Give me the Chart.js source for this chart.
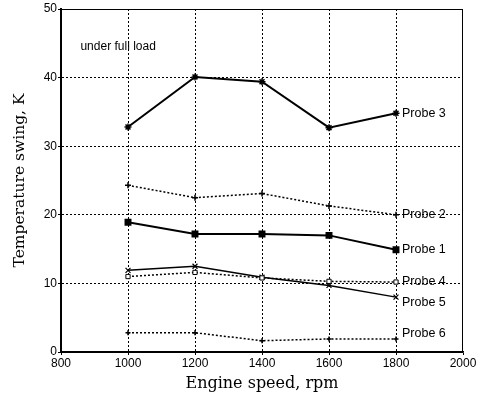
<!DOCTYPE html>
<html>
<head>
<meta charset="utf-8">
<script src="https://cdn.jsdelivr.net/npm/chart.js@4"></script>
<style>
html, body { margin: 0; padding: 0; background: #fff; }
#wrap { width: 488px; height: 403px; }
</style>
</head>
<body>
<div id="wrap"><canvas id="swingChart" width="488" height="403"></canvas></div>
<script>
let speeds = [1000, 1200, 1400, 1600, 1800];
let probe1 = [18.9, 17.2, 17.2, 17.0, 14.9];
let probe2 = [24.3, 22.5, 23.1, 21.3, 20.0];
let probe3 = [32.8, 40.1, 39.4, 32.7, 34.8];
let probe4 = [11.0, 11.6, 10.8, 10.3, 10.2];
let probe5 = [11.9, 12.5, 10.9, 9.7, 8.0];
let probe6 = [2.8, 2.8, 1.65, 1.9, 1.9];
let xTicks = [800, 1000, 1200, 1400, 1600, 1800, 2000];
let yTicks = [0, 10, 20, 30, 40, 50];

function pts(vals) {
	return speeds.map(function (s, i) { return { x: s, y: vals[i] }; });
}

// frame, end labels and note
var extras = {
	id: 'extras',
	afterDatasetsDraw: function (chart) {
		var c = chart.ctx, a = chart.chartArea;
		c.save();
		c.strokeStyle = '#000';
		c.lineWidth = 1;
		c.strokeRect(a.left + 0.5, a.top + 0.5, a.right - a.left - 1, a.bottom - a.top);
		c.fillStyle = '#000';
		c.font = '12.5px "Liberation Sans", Arial, sans-serif';
		c.textBaseline = 'middle';
		chart.data.datasets.forEach(function (ds, i) {
			var meta = chart.getDatasetMeta(i);
			var p = meta.data[meta.data.length - 1];
			c.fillText(ds.label, p.x + 6, p.y + (ds.labelShift || 0));
		});
		c.font = '12px "Liberation Sans", Arial, sans-serif';
		c.fillText('under full load', chart.scales.x.getPixelForValue(858), chart.scales.y.getPixelForValue(44.5));
		c.restore();
	}
};

var plainTick = function (v) { return String(v); };

var ctx = document.getElementById('swingChart').getContext('2d');
var swingChart = new Chart(ctx, {
	type: 'line',
	data: {
		datasets: [{
			label: 'Probe 3',
			data: pts(probe3),
			borderColor: '#000', backgroundColor: '#000',
			borderWidth: 2, pointStyle: 'star', pointRadius: 3.5, pointBorderWidth: 1.5
		}, {
			label: 'Probe 2',
			data: pts(probe2),
			borderColor: '#000', backgroundColor: '#000',
			borderWidth: 1.5, borderDash: [2, 2], pointStyle: 'cross', pointRadius: 3, pointBorderWidth: 1.5
		}, {
			label: 'Probe 1',
			data: pts(probe1),
			borderColor: '#000', backgroundColor: '#000',
			borderWidth: 2, pointStyle: 'rect', pointRadius: 3.5
		}, {
			label: 'Probe 4',
			data: pts(probe4),
			borderColor: '#000', backgroundColor: '#fff',
			borderWidth: 1.5, borderDash: [2, 2], pointStyle: 'rect', pointRadius: 3, pointBorderWidth: 1
		}, {
			label: 'Probe 5',
			data: pts(probe5),
			borderColor: '#000', backgroundColor: '#000',
			borderWidth: 1.5, pointStyle: 'crossRot', pointRadius: 3.5, pointBorderWidth: 1.2,
			labelShift: 5
		}, {
			label: 'Probe 6',
			data: pts(probe6),
			borderColor: '#000', backgroundColor: '#000',
			borderWidth: 1.5, borderDash: [2, 2], pointStyle: 'cross', pointRadius: 2.5, pointBorderWidth: 1.5,
			labelShift: -5
		}]
	},
	options: {
		responsive: false,
		animation: false,
		layout: { padding: { top: 9, right: 25, left: 0, bottom: 0 } },
		plugins: { legend: { display: false }, tooltip: { enabled: false } },
		scales: {
			x: {
				type: 'linear', min: 800, max: 2000,
				afterBuildTicks: function (s) { s.ticks = xTicks.map(function (v) { return { value: v }; }); },
				afterFit: function (s) { s.height = 51; },
				border: { color: '#000', width: 1.5, dash: [2, 2] },
				grid: {
					color: function (c) { return (c.tick && (c.tick.value === 800 || c.tick.value === 2000)) ? 'rgba(0,0,0,0)' : '#000'; },
					tickColor: '#000', tickLength: 3, drawTicks: true
				},
				ticks: { color: '#000', padding: 1, callback: plainTick, font: { size: 12, family: '"Liberation Sans", Arial, sans-serif' } },
				title: { display: true, text: 'Engine speed, rpm', color: '#000', padding: { top: 0, bottom: 10 }, font: { size: 16, family: '"DejaVu Serif", "Liberation Serif", serif' } }
			},
			y: {
				min: 0, max: 50,
				afterBuildTicks: function (s) { s.ticks = yTicks.map(function (v) { return { value: v }; }); },
				afterFit: function (s) { s.width = 61; },
				border: { color: '#000', width: 2, dash: [2, 2] },
				grid: {
					color: function (c) { return (c.tick && (c.tick.value === 0 || c.tick.value === 50)) ? 'rgba(0,0,0,0)' : '#000'; },
					tickColor: '#000', tickLength: 3, drawTicks: true
				},
				ticks: { color: '#000', padding: 1, callback: plainTick, font: { size: 12, family: '"Liberation Sans", Arial, sans-serif' } },
				title: { display: true, text: 'Temperature swing, K', color: '#000', padding: { top: 11, bottom: 0 }, font: { size: 15.5, family: '"DejaVu Serif", "Liberation Serif", serif' } }
			}
		}
	},
	plugins: [extras]
});
</script>
</body>
</html>
